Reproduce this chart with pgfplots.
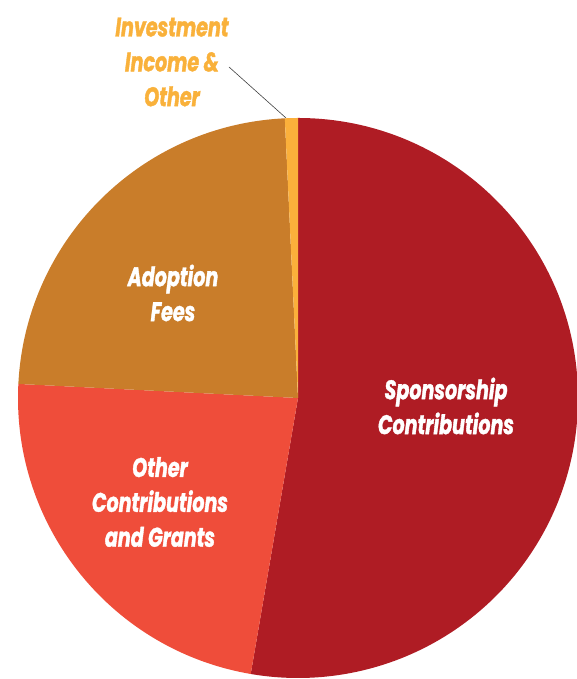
\documentclass[border=0pt]{standalone}
\usepackage{pgfplots}
\pgfplotsset{compat=1.18}
\usepackage{pgfplotstable}
\usepackage{fontspec}
\setmainfont{Poppins}[FakeStretch=0.71, BoldItalicFeatures={FakeBold=1.3}]
\definecolor{spons}{HTML}{AF1C24}
\definecolor{other}{HTML}{EF4D3A}
\definecolor{adopt}{HTML}{C97D2A}
\definecolor{invest}{HTML}{FBB03B}
\definecolor{investtext}{HTML}{F9B13B}
% share of revenue, percent, clockwise from 12 o'clock
\pgfplotstableread{
value colour
52.7  spons
23.1  other
23.45 adopt
0.75  invest
}\piedata
\begin{document}
\begin{tikzpicture}
\begin{axis}[
  x=1bp, y=1bp,
  xmin=0, xmax=577, ymin=0, ymax=679,
  hide axis, clip=true,
]
\path (axis cs:0,0) (axis cs:577,679);
\pgfplotsextra{
  \def\startang{90}
  \pgfplotsforeachungrouped \i in {0,...,3}{
    \pgfplotstablegetelem{\i}{value}\of\piedata
    \pgfmathsetmacro\endang{\startang-3.6*\pgfplotsretval}
    \pgfplotstablegetelem{\i}{colour}\of\piedata
    \edef\slicecol{\pgfplotsretval}
    \fill[fill=\slicecol] (axis cs:298,281) -- ([shift={(\startang:280bp)}]axis cs:298,281)
      arc[start angle=\startang, end angle=\endang, radius=280bp] -- cycle;
    \global\let\startang\endang
  }
}
\draw[black!75, line width=0.6bp] (axis cs:229,612) -- (axis cs:286,561);
\tikzset{lab/.style={align=center, font=\fontsize{27}{35}\selectfont\bfseries\itshape}}
\node[lab, text=white] at (axis cs:446,273) {Sponsorship\\Contributions};
\node[lab, text=white] at (axis cs:160,177) {Other\\Contributions\\and Grants};
\node[lab, text=white] at (axis cs:173,386) {Adoption\\Fees};
\node[lab, text=investtext] at (axis cs:172,617) {Investment\\Income \&\\Other};
\end{axis}
\end{tikzpicture}
\end{document}
